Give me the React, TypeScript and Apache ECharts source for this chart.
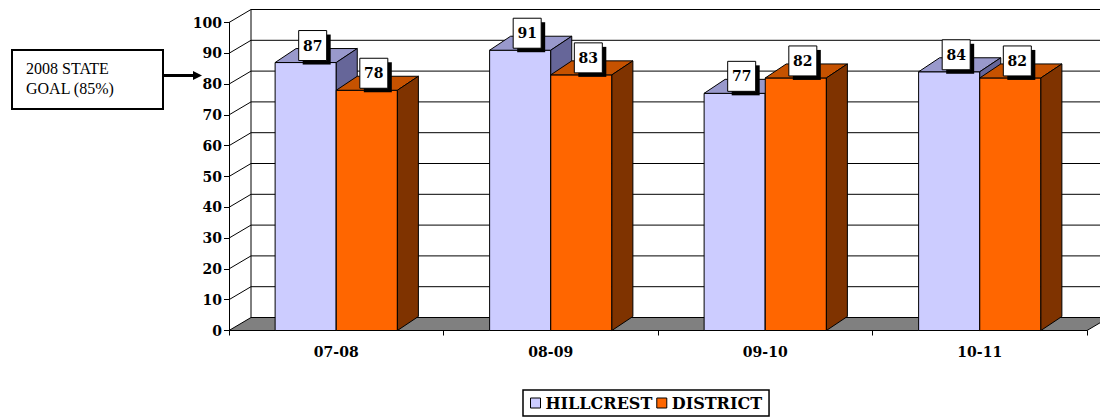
import React, { useEffect, useRef } from 'react';
import * as echarts from 'echarts';

const categories = ['07-08', '08-09', '09-10', '10-11'];
const hillcrest = [87, 91, 77, 84];
const district = [78, 83, 82, 82];
const yTicks = [0, 10, 20, 30, 40, 50, 60, 70, 80, 90, 100];
const seriesNames = ['HILLCREST', 'DISTRICT'];
const goalText = ['2008 STATE', 'GOAL (85%)'];

const FONT = 'DejaVu Serif';
const BAR_DX = 21;
const BAR_DY = -14;
const WALL_DX = 22;
const WALL_DY = -13;
const BAR_FRAC = 0.285;

const palettes = [
  { front: '#CCCCFF', top: '#9999CC', side: '#666699' },
  { front: '#FF6600', top: '#C65200', side: '#7F3300' },
];

function barGeom(api: any, seriesIdx: number) {
  const cat = api.value(0);
  const v = api.value(1);
  const top = api.coord([cat, v]);
  const base = api.coord([cat, 0]);
  const band = api.size([1, 0])[0];
  const w = band * BAR_FRAC;
  const x0 = seriesIdx === 0 ? top[0] - w : top[0];
  return { x0, x1: x0 + w, yt: top[1], yb: base[1], v };
}

function makeBarRender(seriesIdx: number) {
  return (params: any, api: any) => {
    const { x0, x1, yt, yb } = barGeom(api, seriesIdx);
    const p = palettes[seriesIdx];
    const st = { stroke: '#000', lineWidth: 1 };
    return {
      type: 'group',
      children: [
        { type: 'polygon', shape: { points: [[x0, yb], [x1, yb], [x1, yt], [x0, yt]] }, style: { fill: p.front, ...st } },
        { type: 'polygon', shape: { points: [[x0, yt], [x1, yt], [x1 + BAR_DX, yt + BAR_DY], [x0 + BAR_DX, yt + BAR_DY]] }, style: { fill: p.top, ...st } },
        { type: 'polygon', shape: { points: [[x1, yb], [x1 + BAR_DX, yb + BAR_DY], [x1 + BAR_DX, yt + BAR_DY], [x1, yt]] }, style: { fill: p.side, ...st } },
      ],
    };
  };
}

function labelRender(params: any, api: any) {
  const sIdx = api.value(2);
  const { x0, x1, yt, v } = barGeom(api, sIdx);
  const cx = (x0 + x1) / 2 + 7;
  const cy = yt - 17;
  const w = 28;
  const h = 30;
  return {
    type: 'group',
    children: [
      { type: 'rect', shape: { x: cx - w / 2 + 4, y: cy - h / 2 + 4, width: w, height: h }, style: { fill: '#000' } },
      { type: 'rect', shape: { x: cx - w / 2, y: cy - h / 2, width: w, height: h }, style: { fill: '#fff', stroke: '#000', lineWidth: 1 } },
      {
        type: 'text',
        x: cx,
        y: cy,
        style: { text: String(v), fontFamily: FONT, fontWeight: 'bold', fontSize: 14, fill: '#000', align: 'center', verticalAlign: 'middle' },
      },
    ],
  };
}

function wallRender(params: any, api: any) {
  const cs = params.coordSys;
  const x0 = cs.x;
  const x1 = cs.x + cs.width;
  const y0 = api.coord([0, 0])[1];
  const yTop = api.coord([0, yTicks[yTicks.length - 1]])[1];
  const children: any[] = [];
  children.push({
    type: 'polygon',
    shape: { points: [[x0, y0], [x1, y0], [x1 + WALL_DX, y0 + WALL_DY], [x0 + WALL_DX, y0 + WALL_DY]] },
    style: { fill: '#808080', stroke: '#000', lineWidth: 1 },
  });
  children.push({
    type: 'line',
    shape: { x1: x0 + WALL_DX, y1: yTop + WALL_DY, x2: x0 + WALL_DX, y2: y0 + WALL_DY },
    style: { stroke: '#000', lineWidth: 1 },
  });
  yTicks.forEach((t) => {
    if (t === 0) return;
    const y = api.coord([0, t])[1];
    children.push({ type: 'line', shape: { x1: x0, y1: y, x2: x0 + WALL_DX, y2: y + WALL_DY }, style: { stroke: '#000', lineWidth: 1 } });
    children.push({ type: 'line', shape: { x1: x0 + WALL_DX, y1: y + WALL_DY, x2: x1 + WALL_DX, y2: y + WALL_DY }, style: { stroke: '#000', lineWidth: 1 } });
  });
  return { type: 'group', children };
}

export default function App() {
  const ref = useRef<HTMLDivElement>(null);
  useEffect(() => {
    if (!ref.current) return;
    const chart = echarts.init(ref.current, null, { renderer: 'svg' });
    const labelData: any[] = [];
    hillcrest.forEach((v, i) => labelData.push([i, v, 0]));
    district.forEach((v, i) => labelData.push([i, v, 1]));
    chart.setOption({
      animation: false,
      backgroundColor: '#fff',
      grid: { left: 229, right: 13, top: 22.5, bottom: 86.5, containLabel: false },
      xAxis: {
        type: 'category',
        data: categories,
        boundaryGap: true,
        axisLine: { show: true, lineStyle: { color: '#000', width: 1 } },
        axisTick: { show: true, alignWithLabel: false, length: 5, lineStyle: { color: '#000' } },
        axisLabel: { color: '#000', fontFamily: FONT, fontWeight: 'bold', fontSize: 14, margin: 14 },
        splitLine: { show: false },
      },
      yAxis: {
        type: 'value',
        min: 0,
        max: 100,
        interval: 10,
        axisLine: { show: true, lineStyle: { color: '#000', width: 1 } },
        axisTick: { show: true, length: 5, lineStyle: { color: '#000' } },
        axisLabel: { color: '#000', fontFamily: FONT, fontWeight: 'bold', fontSize: 14, margin: 7 },
        splitLine: { show: false },
      },
      legend: {
        data: seriesNames,
        left: 523,
        top: 390,
        orient: 'horizontal',
        icon: 'rect',
        itemWidth: 10,
        itemHeight: 10,
        itemGap: 4,
        selectedMode: false,
        borderColor: '#000',
        borderWidth: 1.5,
        padding: [5, 7, 5, 7],
        itemStyle: { borderColor: '#000', borderWidth: 1 },
        textStyle: { color: '#000', fontFamily: FONT, fontWeight: 'bold', fontSize: 16 },
      },
      graphic: [
        { type: 'rect', shape: { x: 12, y: 50, width: 151, height: 59 }, style: { fill: '#fff', stroke: '#000', lineWidth: 2 } },
        {
          type: 'text',
          x: 26,
          y: 78.5,
          style: { text: goalText.join('\n'), fontFamily: 'Liberation Serif', fontSize: 16, lineHeight: 20, fill: '#000', verticalAlign: 'middle' },
        },
        { type: 'line', shape: { x1: 163, y1: 75.5, x2: 194, y2: 75.5 }, style: { stroke: '#000', lineWidth: 3 } },
        { type: 'polygon', shape: { points: [[193, 71], [202, 75.5], [193, 80]] }, style: { fill: '#000' } },
      ],
      series: [
        { type: 'custom', name: 'walls', z: 1, silent: true, renderItem: wallRender, data: [[0, 0]] },
        {
          type: 'custom',
          name: seriesNames[0],
          z: 2,
          itemStyle: { color: palettes[0].front },
          renderItem: makeBarRender(0),
          data: hillcrest.map((v, i) => [i, v]),
        },
        {
          type: 'custom',
          name: seriesNames[1],
          z: 3,
          itemStyle: { color: palettes[1].front },
          renderItem: makeBarRender(1),
          data: district.map((v, i) => [i, v]),
        },
        { type: 'custom', name: 'labels', z: 4, renderItem: labelRender, data: labelData },
      ],
    });
    return () => chart.dispose();
  }, []);
  return <div ref={ref} style={{ position: 'fixed', left: 0, top: 0, width: 1100, height: 417 }} />;
}
